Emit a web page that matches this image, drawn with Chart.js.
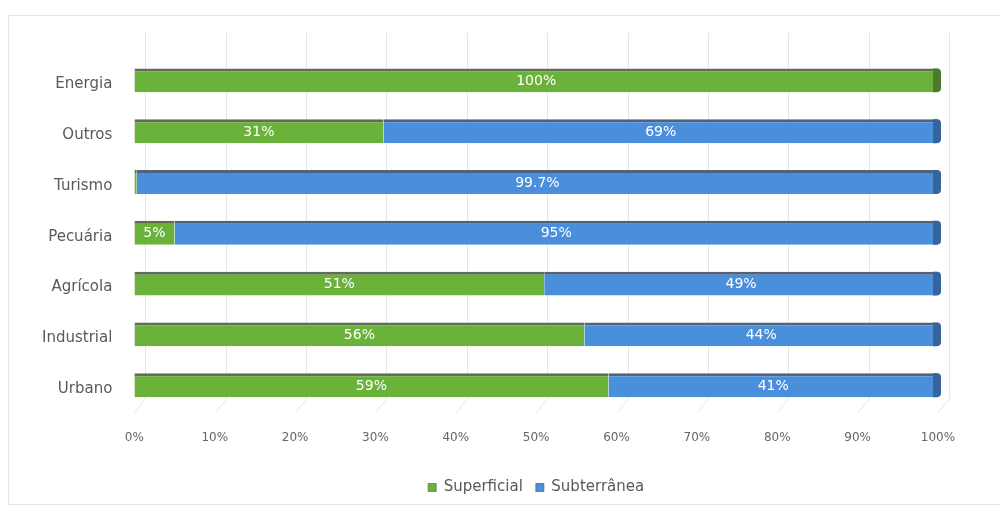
<!DOCTYPE html>
<html>
<head>
<meta charset="utf-8">
<script src="https://cdn.jsdelivr.net/npm/chart.js@4/dist/chart.umd.min.js"></script>
<style>
  html, body { margin: 0; padding: 0; background: #fff; }
  #wrap { position: relative; width: 1000px; height: 507px; }
  #card { position: absolute; left: 8px; top: 15px; right: -2px; bottom: 2px; border: 1px solid #e6e6e6; }
  #myChart { position: absolute; left: 0; top: 0; }
</style>
</head>
<body>
<div id="wrap">
  <div id="card"></div>
  <canvas id="myChart" width="1000" height="507"></canvas>
</div>
<script>
const colorGreen = '#6bb23a';
const colorBlue = '#4a8fdc';
const edgeGreen = '#5d6e55';
const edgeBlue = '#4f647c';
const fontFamily = '"DejaVu Sans", sans-serif';

const categorias = ['Energia', 'Outros', 'Turismo', 'Pecuária', 'Agrícola', 'Industrial', 'Urbano'];
const superficial = [100, 31, 0.3, 5, 51, 56, 59];
const subterranea = [0, 69, 99.7, 95, 49, 44, 41];
const xTicks = [0, 10, 20, 30, 40, 50, 60, 70, 80, 90, 100];

// back-wall gridlines with a short slanted foot, pseudo 3D
const wallGrid = {
  id: 'wallGrid',
  beforeDatasetsDraw(chart) {
    const c = chart.ctx;
    const area = chart.chartArea;
    const sx = chart.scales.x;
    const depth = 11;
    c.save();
    c.strokeStyle = '#e6e6e6';
    c.lineWidth = 1;
    xTicks.forEach(v => {
      const px = Math.round(sx.getPixelForValue(v)) + 0.5;
      c.beginPath();
      c.moveTo(px + depth, 33);
      c.lineTo(px + depth, area.bottom - 12);
      c.lineTo(px, area.bottom + 2);
      c.stroke();
    });
    c.restore();
  }
};

// white percentage labels centred in each segment
const segmentLabels = {
  id: 'segmentLabels',
  afterDatasetsDraw(chart) {
    const c = chart.ctx;
    c.save();
    c.font = '14px ' + fontFamily;
    c.fillStyle = '#ffffff';
    c.textAlign = 'center';
    c.textBaseline = 'middle';
    chart.data.datasets.forEach((ds, i) => {
      chart.getDatasetMeta(i).data.forEach((bar, j) => {
        const v = ds.data[j];
        if (v < 1) return;
        const x = (bar.x + bar.base) / 2;
        c.fillText(v + '%', x, bar.y + 1);
      });
    });
    c.restore();
  }
};

// dark rounded cap at the end of every bar
const barCaps = {
  id: 'barCaps',
  afterDatasetsDraw(chart) {
    const c = chart.ctx;
    const metas = chart.data.datasets.map((ds, i) => chart.getDatasetMeta(i));
    c.save();
    categorias.forEach((cat, j) => {
      const last = subterranea[j] > 0 ? 1 : 0;
      const bar = metas[last].data[j];
      const h = bar.height;
      const x = bar.x;
      c.fillStyle = last ? '#35659c' : '#4a7a2c';
      c.beginPath();
      c.moveTo(x - 5, bar.y - h / 2);
      c.lineTo(x - 1, bar.y - h / 2);
      c.quadraticCurveTo(x + 3, bar.y - h / 2, x + 3, bar.y - h / 2 + 4);
      c.lineTo(x + 3, bar.y + h / 2 - 4);
      c.quadraticCurveTo(x + 3, bar.y + h / 2, x - 2, bar.y + h / 2);
      c.lineTo(x - 5, bar.y + h / 2);
      c.closePath();
      c.fill();
    });
    c.restore();
  }
};

const ctx = document.getElementById('myChart');
new Chart(ctx, {
  type: 'bar',
  data: {
    labels: categorias,
    datasets: [
      {
        label: 'Superficial',
        data: superficial,
        backgroundColor: colorGreen,
        borderColor: edgeGreen,
        borderWidth: { top: 3, right: 0, bottom: 0, left: 0 },
        borderSkipped: false
      },
      {
        label: 'Subterrânea',
        data: subterranea,
        backgroundColor: colorBlue,
        borderColor: edgeBlue,
        borderWidth: { top: 3, right: 0, bottom: 0, left: 0 },
        borderSkipped: false
      }
    ]
  },
  options: {
    indexAxis: 'y',
    responsive: false,
    animation: false,
    barPercentage: 0.47,
    categoryPercentage: 1,
    layout: { padding: { left: 20, right: 62, top: 55, bottom: 2 } },
    scales: {
      x: {
        stacked: true,
        min: 0,
        max: 100,
        afterBuildTicks(axis) { axis.ticks = xTicks.map(v => ({ value: v })); },
        afterFit(scale) { scale.height += 10; },
        grid: { display: false },
        border: { display: false },
        ticks: {
          padding: 12,
          color: '#666',
          font: { family: fontFamily, size: 12 },
          callback: v => v + '%'
        }
      },
      y: {
        stacked: true,
        grid: { display: false, drawTicks: false },
        border: { display: false },
        ticks: {
          padding: 22,
          labelOffset: 4,
          color: '#595959',
          font: { family: fontFamily, size: 15 }
        }
      }
    },
    plugins: {
      legend: {
        position: 'bottom',
        fullSize: false,
        labels: {
          boxWidth: 8,
          boxHeight: 8,
          padding: 13,
          color: '#595959',
          font: { family: fontFamily, size: 15 }
        }
      },
      tooltip: { enabled: false }
    }
  },
  plugins: [wallGrid, segmentLabels, barCaps]
});
</script>
</body>
</html>
